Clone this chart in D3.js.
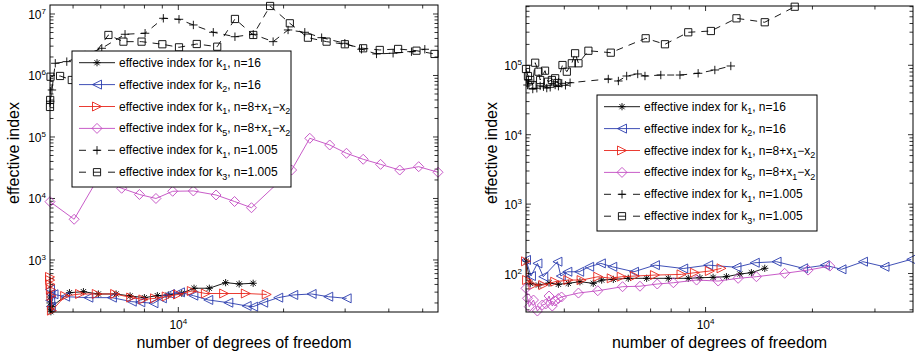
<!DOCTYPE html>
<html><head><meta charset="utf-8">
<script src="https://cdn.jsdelivr.net/npm/d3@7"></script>
<style>body{margin:0;background:#fff}svg{display:block}text{font-family:"Liberation Sans",Arial,Helvetica,sans-serif}</style>
</head><body><svg id="c" width="915" height="356"></svg>
<script>
// ---------- DATA (x = degrees of freedom, y = effective index) ----------
const legendLabels = [
  [["effective index for k",0],["1",1],[", n=16",0]],
  [["effective index for k",0],["2",1],[", n=16",0]],
  [["effective index for k",0],["1",1],[", n=8+x",0],["1",1],["\u2212x",0],["2",1]],
  [["effective index for k",0],["5",1],[", n=8+x",0],["1",1],["\u2212x",0],["2",1]],
  [["effective index for k",0],["1",1],[", n=1.005",0]],
  [["effective index for k",0],["3",1],[", n=1.005",0]]
];
const xAxisLabel = "number of degrees of freedom";
const yAxisLabel = "effective index";

// Left panel
const leftK1n16 = [[4295,200],[4300,250],[4310,160],[4320,144],[4350,175],[4883,294],[5353,305],[5906,280],[6637,280],[7278,260],[7998,244],[8710,263],[9363,270],[10225,288],[11090,347],[12264,347],[13656,428],[14930,407],[16370,418]];
const leftK2n16 = [[4295,330],[4300,220],[4310,280],[4320,175],[4395,277],[4745,253],[5530,244],[6457,244],[7360,210],[7786,205],[8491,198],[8975,238],[9470,280],[10112,298],[11040,263],[12180,224],[13900,202],[15680,179],[16370,174],[17490,202],[19310,244],[21320,270],[24060,280],[26840,253],[30300,238]];
const leftK1var = [[4295,530],[4300,470],[4310,400],[4320,330],[4335,260],[4350,150],[4745,260],[5235,280],[5845,280],[6595,280],[7330,245],[7943,228],[8577,238],[9265,255],[9980,275],[10930,313],[11990,285],[13520,285],[15600,285],[17900,275]];
const leftK5var = [[4295,8870],[5035,4590],[5900,21500],[6885,14660],[7740,11610],[8630,10000],[9635,13100],[11040,13250],[12820,11400],[14480,8930],[16190,7080],[21090,29000],[23770,95300],[27100,74100],[30270,54300],[33790,43400],[37880,35900],[42980,29000],[48700,32900],[55300,26700]];
const leftK1n1005 = [[4300,381000],[4350,581000],[4447,1580000],[4797,1680000],[5410,2150000],[6040,2770000],[7040,4680000],[8034,4860000],[9060,8510000],[10045,8200000],[11040,6630000],[12590,5040000],[14520,4270000],[16380,4670000],[18670,3550000],[20600,5500000],[23000,5040000],[25700,4120000],[29940,3340000],[33410,2670000],[36880,2240000],[41140,2300000],[46430,2440000],[50700,2670000]];
const leftK3n1005 = [[4295,308000],[4300,400000],[4310,955000],[4590,982000],[4958,845000],[5600,1790000],[6310,4560000],[6966,3550000],[7850,3550000],[9000,3220000],[10045,2870000],[11290,3250000],[12920,2940000],[14520,8300000],[16380,4560000],[18300,13500000],[20840,7060000],[23480,4120000],[26550,3550000],[29940,3220000],[33780,2770000],[37680,2600000],[42520,2700000],[47990,2530000],[54040,2240000]];

// Right panel
const rightK1n16 = [[3125,150],[3207,72.3],[3383,68.2],[3622,73],[3850,70],[4105,72.3],[4427,76.2],[4826,72.3],[5097,80.5],[5497,82.4],[6057,85.3],[6824,85.3],[7852,85.3],[8938,85.3],[9637,86.9],[10500,88.1],[11450,90],[12490,98.4],[13460,102.7],[14680,118.9]];
const rightK2n16 = [[3120,157],[3222,92],[3360,140],[3490,90],[3826,148],[3910,92],[4080,106],[4405,106],[4700,125],[5070,140],[5460,125],[6285,106],[7200,132],[8650,118],[10170,132],[12220,123],[13760,143],[15850,148],[18830,119],[21670,132],[24150,115],[27760,148],[31920,125],[37970,160]];
const rightK1var = [[3120,150],[3142,80.5],[3275,68.2],[3490,68.2],[3770,76.2],[4105,80.5],[4475,80.5],[4985,90],[5440,85.3],[5805,90],[6325,92],[7200,95],[8556,97.2],[9332,102.7],[10280,108.6],[11090,118.9]];
const rightK5var = [[3120,61.2],[3150,44],[3186,33.3],[3275,41.5],[3359,28.8],[3468,35.2],[3545,36.4],[3623,47.4],[3700,34],[3770,40.2],[3848,43.6],[3929,45.9],[4384,52.3],[4970,56.5],[5836,64.6],[6535,65.6],[7310,70.6],[8117,73.7],[9434,80.5],[10850,77.9],[12350,85.3],[13910,90],[16700,100.7],[19440,112],[22390,128]];
const rightK1n1005 = [[3150,52000],[3170,61400],[3260,45500],[3348,46700],[3420,50500],[3494,49200],[3570,47000],[3650,48200],[3770,52000],[3850,50000],[3935,55000],[4030,51500],[4153,56100],[5320,63500],[5680,59400],[5995,70100],[6440,75000],[6750,70100],[7480,72400],[8470,72400],[9530,76700],[10620,85600],[11780,97700]];
const rightK3n1005 = [[3120,88500],[3160,70000],[3207,61400],[3253,52000],[3312,108900],[3383,80900],[3420,61400],[3530,83600],[3600,58000],[3690,61400],[3770,65000],[3822,55600],[3953,100900],[4066,80900],[4200,106900],[4290,149000],[4385,106900],[4677,162000],[5407,152000],[6780,245000],[7685,201000],[8937,299000],[10350,312000],[12220,475000],[14680,417000],[17830,698000]];

// ---------- STYLES ----------
const styles = [
  {color:"#000000", marker:"star", dash:null},
  {color:"#2a3cae", marker:"ltri", dash:null},
  {color:"#e8261c", marker:"rtri", dash:null},
  {color:"#c24ac2", marker:"diamond", dash:null},
  {color:"#000000", marker:"plus", dash:"7,6"},
  {color:"#000000", marker:"square", dash:"7,6"}
];

const panels = [
  {x0:50, x1:438, y0:5, y1:312, xDomain:[4295,55300], yDomain:[142.6,1.4e7],
   series:[leftK1n16,leftK2n16,leftK1var,leftK5var,leftK1n1005,leftK3n1005],
   legend:{x:72, y:51, w:219, h:136}, yLabelX:19},
  {x0:526, x1:913, y0:6, y1:312, xDomain:[3120,38400], yDomain:[27.9,7.15e5],
   series:[rightK1n16,rightK2n16,rightK1var,rightK5var,rightK1n1005,rightK3n1005],
   legend:{x:597, y:95, w:220, h:136}, yLabelX:497}
];

function markerPath(t){
  let r;
  switch(t){
    case "star": r=3.6; const a=r*0.72; return `M${-r},0L${r},0M0,${-r}L0,${r}M${-a},${-a}L${a},${a}M${-a},${a}L${a},${-a}`;
    case "ltri": r=4.5; return `M${-r},0L${r},${-r}L${r},${r}Z`;
    case "rtri": r=4.5; return `M${r},0L${-r},${-r}L${-r},${r}Z`;
    case "diamond": r=5; return `M0,${-r}L${r},0L0,${r}L${-r},0Z`;
    case "plus": r=4.2; return `M${-r},0L${r},0M0,${-r}L0,${r}`;
    case "square": r=3.6; return `M${-r},${-r}L${r},${-r}L${r},${r}L${-r},${r}Z`;
  }
}

const svg = d3.select("#c");

function powLabel(sel, exp, anchor){
  sel.attr("text-anchor", anchor).attr("font-size", 12).attr("fill","#000");
  sel.append("tspan").text("10");
  sel.append("tspan").attr("font-size", 8).attr("dy", -5).text(exp);
}

panels.forEach(p => {
  const x = d3.scaleLog().domain(p.xDomain).range([p.x0, p.x1]);
  const y = d3.scaleLog().domain(p.yDomain).range([p.y1, p.y0]);
  const g = svg.append("g");

  const tk = g.append("g").attr("stroke","#000").attr("stroke-width",0.8);
  function logTicks(dom){
    const out=[];
    const d0=Math.floor(Math.log10(dom[0])), d1=Math.ceil(Math.log10(dom[1]));
    for(let d=d0; d<=d1; d++) for(let m=1;m<=9;m++){
      const v=m*Math.pow(10,d);
      if(v>=dom[0]*0.9999 && v<=dom[1]*1.0001) out.push({v, major:m===1, e:d});
    }
    return out;
  }
  logTicks(p.xDomain).forEach(t=>{
    const px=x(t.v), L=t.major?5:3.5;
    tk.append("line").attr("x1",px).attr("x2",px).attr("y1",p.y1).attr("y2",p.y1-L);
    tk.append("line").attr("x1",px).attr("x2",px).attr("y1",p.y0).attr("y2",p.y0+L);
    if(t.major){
      const tx=g.append("text").attr("x",px).attr("y",p.y1+17);
      powLabel(tx, String(t.e), "middle");
    }
  });
  logTicks(p.yDomain).forEach(t=>{
    const py=y(t.v), L=t.major?5:3.5;
    tk.append("line").attr("y1",py).attr("y2",py).attr("x1",p.x0).attr("x2",p.x0+L);
    tk.append("line").attr("y1",py).attr("y2",py).attr("x1",p.x1).attr("x2",p.x1-L);
    if(t.major){
      const tx=g.append("text").attr("x",p.x0-4).attr("y",py+5);
      powLabel(tx, String(t.e), "end");
    }
  });

  const line = d3.line().x(d=>x(d[0])).y(d=>y(d[1]));
  p.series.forEach((data,i)=>{
    const s=styles[i];
    g.append("path").attr("d", line(data)).attr("fill","none")
      .attr("stroke", s.color).attr("stroke-width", 0.9)
      .attr("stroke-dasharray", s.dash);
    g.append("g").selectAll("path").data(data).join("path")
      .attr("d", markerPath(s.marker))
      .attr("transform", d=>`translate(${x(d[0])},${y(d[1])})`)
      .attr("fill","none").attr("stroke", s.color).attr("stroke-width",0.9);
  });

  g.append("rect").attr("x",p.x0).attr("y",p.y0).attr("width",p.x1-p.x0).attr("height",p.y1-p.y0)
    .attr("fill","none").attr("stroke","#000").attr("stroke-width",1);

  g.append("text").attr("x",(p.x0+p.x1)/2).attr("y",348).attr("text-anchor","middle")
    .attr("font-size",16).text(xAxisLabel);
  g.append("text").attr("transform",`translate(${p.yLabelX},153) rotate(-90)`)
    .attr("text-anchor","middle").attr("font-size",16).text(yAxisLabel);

  const L=p.legend;
  const lg=g.append("g");
  lg.append("rect").attr("x",L.x).attr("y",L.y).attr("width",L.w).attr("height",L.h)
    .attr("fill","#fff").attr("stroke","#000").attr("stroke-width",1);
  const rowH=21.9;
  legendLabels.forEach((lab,i)=>{
    const s=styles[i];
    const cy=L.y+11.7+i*rowH;
    const lx0=L.x+7, lx1=L.x+43, mx=(lx0+lx1)/2;
    lg.append("line").attr("x1",lx0).attr("x2",lx1).attr("y1",cy).attr("y2",cy)
      .attr("stroke",s.color).attr("stroke-width",0.9)
      .attr("stroke-dasharray", s.dash ? "7,7.5" : null);
    lg.append("path").attr("d",markerPath(s.marker)).attr("transform",`translate(${mx},${cy})`)
      .attr("fill","none").attr("stroke",s.color).attr("stroke-width",0.9);
    const t=lg.append("text").attr("x",L.x+47).attr("y",cy+4).attr("font-size",12);
    lab.forEach(([txt,sub])=>{
      if(sub){ t.append("tspan").attr("font-size",9).attr("dy",3.5).text(txt); }
      else { const ts=t.append("tspan").text(txt); if(t.node().childNodes.length>1) ts.attr("dy",-3.5); }
    });
  });
});
</script></body></html>
